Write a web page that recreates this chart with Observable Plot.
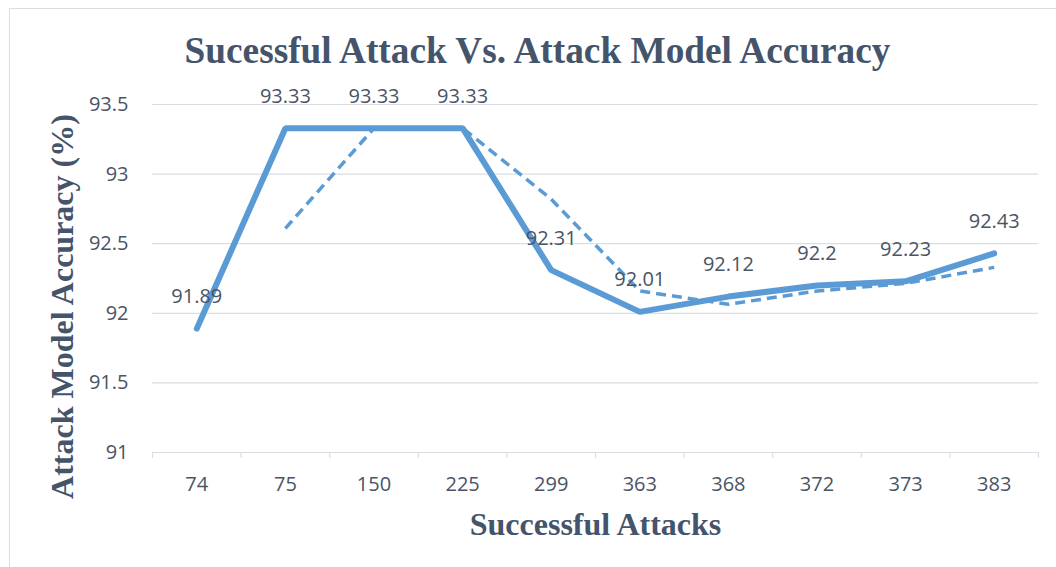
<!DOCTYPE html>
<html>
<head>
<meta charset="utf-8">
<script src="https://cdn.jsdelivr.net/npm/d3@7"></script>
<script src="https://cdn.jsdelivr.net/npm/@observablehq/plot@0.6"></script>
<style>
  html, body { margin: 0; padding: 0; background: #fff; }
  #wrap { position: relative; width: 1056px; height: 567px; overflow: hidden; }
  #frame { position: absolute; left: 9px; top: 8px; right: -2px; bottom: -2px;
           border-top: 1px solid #dadde3; border-left: 1px solid #dadde3; pointer-events: none; }
  #chart { position: absolute; left: 0; top: 0; }
</style>
</head>
<body>
<div id="wrap"><div id="chart"></div><div id="frame"></div></div>
<script>
// Data
const categories = ["74", "75", "150", "225", "299", "363", "368", "372", "373", "383"];
const accuracy = [91.89, 93.33, 93.33, 93.33, 92.31, 92.01, 92.12, 92.2, 92.23, 92.43];
// dashed trend line (starts at the second category)
const trendCategories = ["75", "150", "225", "299", "363", "368", "372", "373", "383"];
const trendValues = [92.61, 93.33, 93.33, 92.82, 92.16, 92.065, 92.16, 92.215, 92.33];
const yTicks = [91, 91.5, 92, 92.5, 93, 93.5];

const titleText = "Sucessful Attack Vs. Attack Model Accuracy";
const xLabel = "Successful Attacks";
const yLabel = "Attack Model Accuracy (%)";

const main = categories.map((c, i) => ({i, c, v: accuracy[i]}));
const trend = trendCategories.map((c, k) => ({i: categories.indexOf(c), v: trendValues[k]}));
const boundaries = d3.range(-0.5, categories.length, 1);

const textColor = "#44546a";
const tickColor = "#4a5465";
const gridColor = "#dadde3";
const lineColor = "#5b9bd5";
const serif = "'Liberation Serif', 'Times New Roman', serif";

const chart = Plot.plot({
  width: 1056,
  height: 567,
  marginTop: 104,
  marginBottom: 115,
  marginLeft: 152,
  marginRight: 18,
  style: {fontFamily: "'Open Sans', sans-serif", background: "transparent", overflow: "visible"},
  x: {type: "linear", domain: [-0.5, categories.length - 0.5], label: null},
  y: {domain: [91, 93.5], label: null},
  marks: [
    Plot.gridY(yTicks, {stroke: gridColor, strokeOpacity: 1, strokeWidth: 1.2}),
    Plot.axisY(yTicks, {tickSize: 0, tickPadding: 24, fontSize: 20, color: tickColor, tickFormat: d => String(d), label: null}),
    Plot.axisX({ticks: boundaries, tickSize: 6, tickFormat: () => "", stroke: gridColor, strokeWidth: 1.2, label: null}),
    Plot.axisX({ticks: d3.range(categories.length), tickSize: 0, tickPadding: 24, fontSize: 20, color: tickColor,
                tickFormat: i => categories[i], label: null}),
    Plot.line(trend, {x: "i", y: "v", stroke: lineColor, strokeWidth: 3.5, strokeDasharray: "10,6", strokeLinecap: "butt"}),
    Plot.line(main, {x: "i", y: "v", stroke: lineColor, strokeWidth: 6, strokeLinecap: "round", strokeLinejoin: "miter"}),
    Plot.text(main, {x: "i", y: "v", text: d => String(d.v), dy: -32, fontSize: 20, fill: tickColor}),
    Plot.text([titleText], {frameAnchor: "top", lineAnchor: "middle", textAnchor: "middle", dx: -58, dy: -53,
                            fontSize: 37.3, fontWeight: "bold", fontFamily: serif, fill: textColor}),
    Plot.text([xLabel], {frameAnchor: "bottom", lineAnchor: "middle", textAnchor: "middle", dy: 72,
                         fontSize: 32, fontWeight: "bold", fontFamily: serif, fill: textColor}),
    Plot.text([yLabel], {frameAnchor: "left", lineAnchor: "middle", textAnchor: "middle", dx: -90, dy: 28, rotate: -90,
                         fontSize: 32, fontWeight: "bold", fontFamily: serif, fill: textColor})
  ]
});
document.getElementById("chart").appendChild(chart);
</script>
</body>
</html>
